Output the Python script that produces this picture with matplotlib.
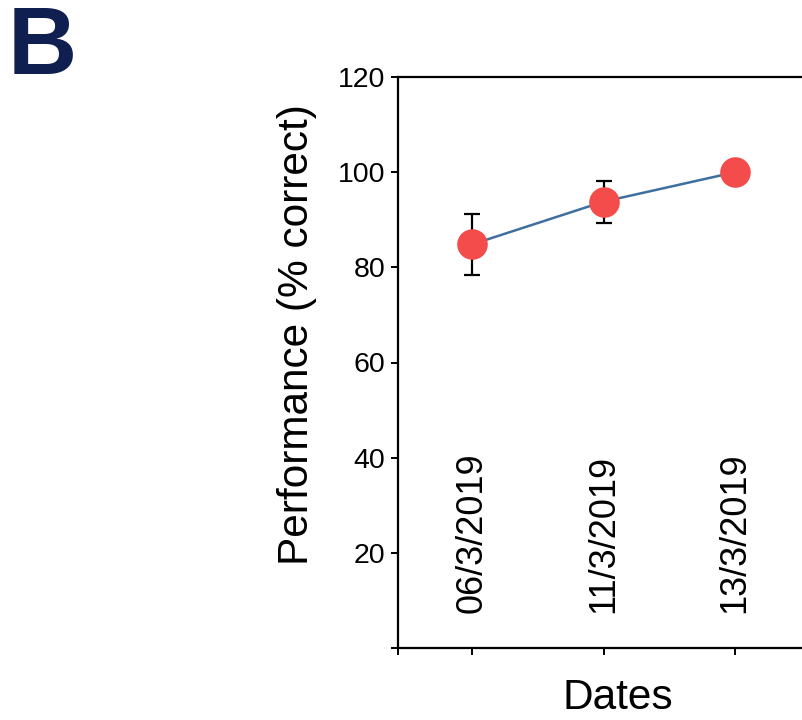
import matplotlib
matplotlib.use("Agg")
import matplotlib.pyplot as plt

dates = ["06/3/2019", "11/3/2019", "13/3/2019"]
performance = [84.8, 93.8, 100.0]
errors = [6.5, 4.4, 0.0]
y_ticks = [0, 20, 40, 60, 80, 100, 120]
y_tick_labels = ["", "20", "40", "60", "80", "100", "120"]

plt.rcParams["font.family"] = ["Liberation Sans", "DejaVu Sans"]

W, H = 802, 720
fig = plt.figure(figsize=(W / 100, H / 100), dpi=100)
left_px, right_px, top_px, bottom_px = 398, 809, 77, 648
ax = fig.add_axes([left_px / W, 1 - bottom_px / H,
                   (right_px - left_px) / W, (bottom_px - top_px) / H])

x = list(range(1, len(dates) + 1))
ax.plot(x, performance, color="#3f6f9f", lw=1.8, zorder=2)
ax.errorbar(x, performance, yerr=errors, fmt="none", ecolor="black",
            elinewidth=1.6, capsize=6, capthick=1.6, zorder=3)
ax.plot(x, performance, "o", color="#f44b4b", ms=21, mec="#f44b4b", zorder=4)

ax.set_xlim(0.44, 3.56)
ax.set_ylim(0, 120)
ax.set_yticks(y_ticks)
ax.set_yticklabels(y_tick_labels)
ax.set_xticks([0.44] + x)
ax.set_xticklabels([""] + dates, rotation=90, va="bottom")

for s in ["left", "bottom", "top"]:
    ax.spines[s].set_linewidth(1.6)
ax.spines["right"].set_visible(False)
ax.tick_params(axis="both", direction="out", length=5, width=1.4)
ax.tick_params(axis="y", labelsize=20.5, pad=4)
ax.tick_params(axis="x", labelsize=26, pad=-30)

ax.set_ylabel("Performance (% correct)", fontsize=30.5)
ax.yaxis.label.set_va("center")
ax.yaxis.set_label_coords((297 - left_px) / (right_px - left_px),
                          (bottom_px - 335) / (bottom_px - top_px))
ax.set_xlabel("Dates", fontsize=30.5)
ax.xaxis.label.set_va("center")
ax.xaxis.set_label_coords((618 - left_px) / (right_px - left_px),
                          -(698 - bottom_px) / (bottom_px - top_px))

fig.text(8 / W, 1 - 49.5 / H, "B", fontsize=69, fontweight="bold",
         color="#0f1f4f", ha="left", va="center")

fig.savefig("out.png", dpi=100)
